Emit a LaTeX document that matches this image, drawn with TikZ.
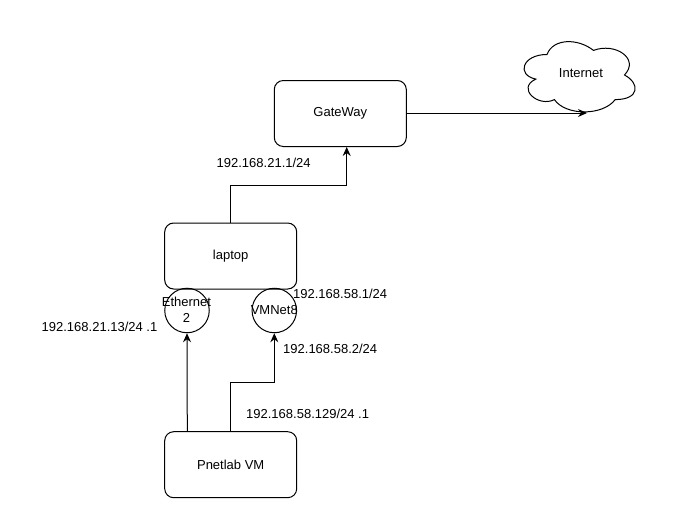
\documentclass[tikz,border=0pt]{standalone}
\usepackage{fontspec}
\setmainfont{Liberation Sans}
\usetikzlibrary{arrows.meta}
\tikzset{
  devbox/.style={draw=black, line width=1pt, rounded corners=9pt, minimum width=132pt, minimum height=66pt, inner sep=0pt, align=center},
  portcircle/.style={draw=black, line width=1pt, circle, minimum size=44.5pt, inner sep=0pt, align=center},
  lbl/.style={inner sep=0pt, anchor=west},
  link/.style={draw=black, line width=1pt, -{Stealth[length=9pt,width=8pt,inset=3pt]}},
  txt/.style={font=\fontsize{13pt}{15pt}\selectfont}
}
\begin{document}
\begin{tikzpicture}[x=1pt, y=-1pt, every node/.append style={txt}]
\useasboundingbox (0,0) rectangle (681,530);
% boxes
\node[devbox] (gw) at (340.3,113.5) {GateWay};
\node[devbox] (laptop) at (230.7,256) {laptop};
\node[devbox] (pnet) at (230.7,464.7) {Pnetlab VM};
\node[portcircle] (eth) at (187,310.5) {};
\node[portcircle] (vmn) at (274.3,310.5) {};
\node[inner sep=0pt, align=center, font=\fontsize{13pt}{16.5pt}\selectfont] (ethtxt) at (186.5,310) {Ethernet\\2};
\node[inner sep=0pt] (vmntxt) at (274.3,310.5) {VMNet8};
% cloud
\begin{scope}[shift={(516pt,-34pt)}, x=124pt, y=-82pt]
\draw[line width=1pt] (0.25,0.25) .. controls (0.05,0.25) and (0,0.5) .. (0.16,0.55)
  .. controls (0,0.66) and (0.18,0.9) .. (0.31,0.8)
  .. controls (0.4,1) and (0.7,1) .. (0.8,0.8)
  .. controls (1,0.8) and (1,0.6) .. (0.875,0.5)
  .. controls (1,0.3) and (0.8,0.1) .. (0.625,0.2)
  .. controls (0.5,0.05) and (0.3,0.05) .. (0.25,0.25) -- cycle;
\end{scope}
\node[inner sep=0pt] (inet) at (581,73) {Internet};
\coordinate (inetin) at (587,113);
% connectors
\draw[link] (gw.east |- 0,113) -- (inetin);
\draw[link] (laptop.north) |- (346.7,185) -- ([xshift=6.4pt]gw.south);
\draw[link] ([xshift=0.3pt]pnet.north -| eth.south) -- (eth.south);
\draw[link] (pnet.north) |- (274.3,382.3) -- (vmn.south);
% labels
\node[lbl] (l1) at (216.5,162.5) {192.168.21.1/24};
\node[lbl] (l2) at (293,293.8) {192.168.58.1/24};
\node[lbl] (l3) at (41.5,326.5) {192.168.21.13/24 .1};
\node[lbl] (l4) at (283,348.5) {192.168.58.2/24};
\node[lbl] (l5) at (246,414) {192.168.58.129/24 .1};
\end{tikzpicture}
\end{document}
